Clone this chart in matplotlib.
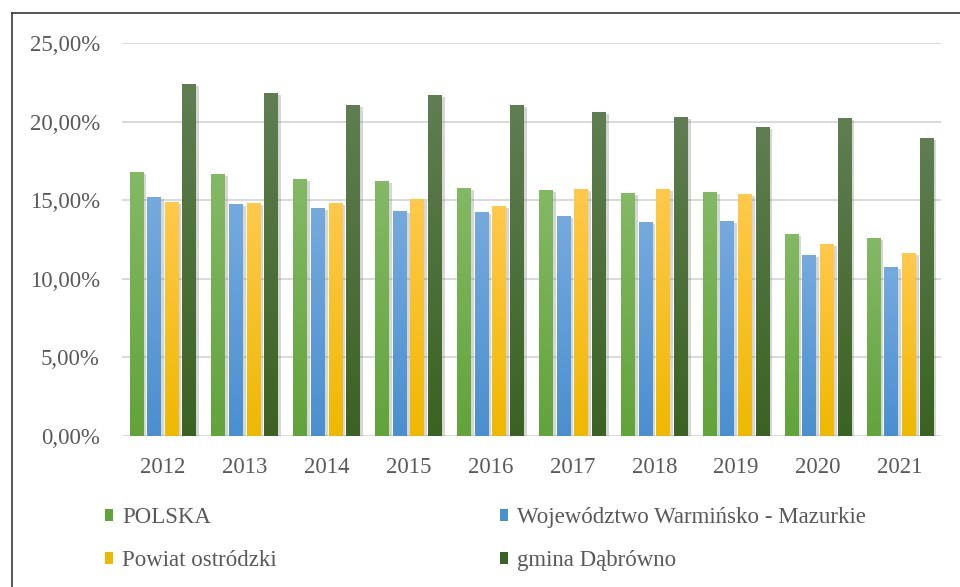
import numpy as np
import matplotlib
matplotlib.use("Agg")
import matplotlib.pyplot as plt
from matplotlib.patches import Patch
from matplotlib.lines import Line2D
from matplotlib.colors import LinearSegmentedColormap
import matplotlib.patheffects as pe

years = ["2012", "2013", "2014", "2015", "2016", "2017", "2018", "2019", "2020", "2021"]
series_names = ["POLSKA", "Województwo Warmińsko - Mazurkie", "Powiat ostródzki", "gmina Dąbrówno"]
polska = [16.77, 16.69, 16.37, 16.20, 15.80, 15.65, 15.48, 15.54, 12.87, 12.61]
wojewodztwo = [15.22, 14.74, 14.50, 14.33, 14.25, 14.01, 13.59, 13.68, 11.49, 10.75]
powiat = [14.90, 14.82, 14.82, 15.06, 14.65, 15.73, 15.73, 15.39, 12.21, 11.64]
gmina = [22.41, 21.84, 21.04, 21.67, 21.04, 20.63, 20.29, 19.64, 20.21, 18.98]
yticks = [0, 5, 10, 15, 20, 25]

series = [polska, wojewodztwo, powiat, gmina]
top_colors = ["#84b965", "#76aade", "#ffc94c", "#607e52"]
bot_colors = ["#62a33a", "#4a8fd0", "#efb800", "#3a6222"]
base_colors = ["#70ad47", "#5b9bd5", "#ffc000", "#4a6e36"]

plt.rcParams["font.family"] = ["Liberation Serif", "DejaVu Serif"]
text_color = "#595959"
fs = 16.5

fig = plt.figure(figsize=(9.6, 5.87), dpi=100)
ax = fig.add_axes([122 / 960, 1 - 436 / 587, (941 - 122) / 960, (436 - 43) / 587])

x = np.arange(len(years))
width = 0.17
step = 0.215
offsets = (np.arange(4) - 1.5) * step

grad = np.linspace(0, 1, 256).reshape(-1, 1)
for i, vals in enumerate(series):
    bars = ax.bar(x + offsets[i], vals, width, color=base_colors[i], zorder=3,
                  label=series_names[i],
                  path_effects=[pe.SimplePatchShadow(offset=(2.0, -1.5), shadow_rgbFace="#808080", alpha=0.32),
                                pe.Normal()])
    cmap = LinearSegmentedColormap.from_list("g%d" % i, [bot_colors[i], top_colors[i]])
    for b in bars:
        bx, by = b.get_x(), b.get_y()
        bw, bh = b.get_width(), b.get_height()
        im = ax.imshow(grad, cmap=cmap, origin="lower", aspect="auto",
                       extent=[bx, bx + bw, by, by + bh], zorder=3.5, interpolation="bilinear")
        im.set_clip_path(b)

ax.set_xlim(-0.5, len(years) - 0.5)
ax.set_ylim(0, 25)
ax.set_xticks(x)
ax.set_xticklabels(years)
ax.set_yticks(yticks)
ax.set_yticklabels([("%.2f" % v).replace(".", ",") + "%" for v in yticks])
ax.tick_params(axis="both", length=0, labelsize=fs, colors=text_color)
ax.tick_params(axis="y", pad=16)
ax.tick_params(axis="x", pad=15)
for s in ax.spines.values():
    s.set_visible(False)
ax.grid(axis="y", color="#d9d9d9", linewidth=1.4, zorder=0)
ax.set_axisbelow(True)

handles = [Patch(facecolor=bot_colors[i], edgecolor="none") for i in range(4)]
leg_kw = dict(frameon=False, fontsize=fs, handlelength=0.34, handleheight=0.42,
              handletextpad=0.42, labelspacing=0.97, borderpad=0, borderaxespad=0,
              loc="center left", labelcolor=text_color)
leg1 = fig.legend([handles[0], handles[2]], [series_names[0], series_names[2]],
                  bbox_to_anchor=(105 / 960, 1 - 539 / 587), **leg_kw)
leg2 = fig.legend([handles[1], handles[3]], [series_names[1], series_names[3]],
                  bbox_to_anchor=(500 / 960, 1 - 539 / 587), **leg_kw)

# chart frame (left and top edges visible)
fig.add_artist(Line2D([11.5 / 960, 11.5 / 960], [0, 1 - 13 / 587], color="#3a3a3a", linewidth=1.2,
                      transform=fig.transFigure))
fig.add_artist(Line2D([11.5 / 960, 1], [1 - 13 / 587, 1 - 13 / 587], color="#3a3a3a", linewidth=1.2,
                      transform=fig.transFigure))

fig.savefig("out.png", dpi=100)
